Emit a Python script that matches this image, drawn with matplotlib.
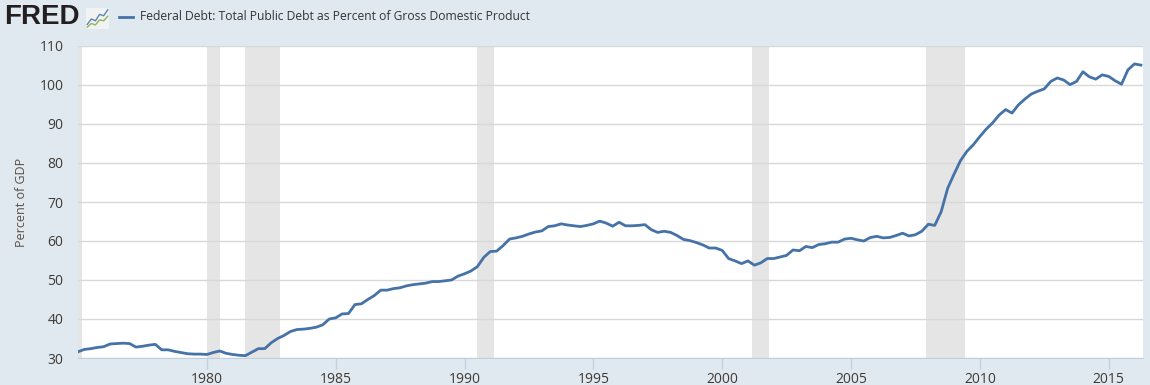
import pandas as pd
import matplotlib
matplotlib.use('Agg')
import matplotlib.pyplot as plt
import matplotlib.dates as mdates
from matplotlib.lines import Line2D

plt.rcParams['font.family'] = ['Open Sans', 'DejaVu Sans']

# quarterly values, 1975 Q1 .. 2016 Q2 (percent of GDP)
debt_pct = [
    31.6, 32.2, 32.4, 32.7,   # 1975
    32.9, 33.6, 33.7, 33.8,   # 1976
    33.7, 32.8, 33.0, 33.3,   # 1977
    33.5, 32.1, 32.1, 31.7,   # 1978
    31.4, 31.1, 31.0, 31.0,   # 1979
    30.9, 31.4, 31.8, 31.2,   # 1980
    30.9, 30.7, 30.6, 31.5,   # 1981
    32.4, 32.4, 33.9, 35.0,   # 1982
    35.8, 36.8, 37.3, 37.4,   # 1983
    37.6, 37.9, 38.5, 40.0,   # 1984
    40.3, 41.3, 41.4, 43.7,   # 1985
    43.9, 45.0, 46.0, 47.4,   # 1986
    47.4, 47.8, 48.0, 48.5,   # 1987
    48.8, 49.0, 49.2, 49.6,   # 1988
    49.6, 49.8, 50.0, 51.0,   # 1989
    51.6, 52.3, 53.4, 55.8,   # 1990
    57.3, 57.4, 58.8, 60.5,   # 1991
    60.8, 61.2, 61.8, 62.3,   # 1992
    62.6, 63.7, 63.9, 64.4,   # 1993
    64.1, 63.9, 63.7, 64.0,   # 1994
    64.4, 65.1, 64.6, 63.8,   # 1995
    64.8, 63.9, 63.9, 64.0,   # 1996
    64.2, 62.9, 62.2, 62.5,   # 1997
    62.2, 61.4, 60.4, 60.1,   # 1998
    59.6, 59.0, 58.2, 58.2,   # 1999
    57.6, 55.5, 54.9, 54.2,   # 2000
    54.9, 53.8, 54.4, 55.5,   # 2001
    55.5, 55.9, 56.3, 57.7,   # 2002
    57.5, 58.6, 58.3, 59.1,   # 2003
    59.3, 59.7, 59.7, 60.5,   # 2004
    60.7, 60.3, 60.0, 60.9,   # 2005
    61.2, 60.8, 60.9, 61.4,   # 2006
    62.0, 61.3, 61.6, 62.5,   # 2007
    64.3, 64.0, 67.5, 73.5,   # 2008
    77.2, 80.6, 83.0, 84.7,   # 2009
    86.8, 88.7, 90.3, 92.3,   # 2010
    93.7, 92.8, 94.9, 96.4,   # 2011
    97.7, 98.4, 99.0, 100.9,  # 2012
    101.8, 101.3, 100.1, 100.9,  # 2013
    103.4, 102.1, 101.5, 102.6,  # 2014
    102.2, 101.1, 100.2, 103.9,  # 2015
    105.4, 105.1,             # 2016
]
dates = pd.date_range('1975-01-01', periods=len(debt_pct), freq='QS')

rec_start = ['1973-11-01', '1980-01-01', '1981-07-01', '1990-07-01', '2001-03-01', '2007-12-01']
rec_end = ['1975-03-01', '1980-07-01', '1982-11-01', '1991-03-01', '2001-11-01', '2009-06-01']

title = 'Federal Debt: Total Public Debt as Percent of Gross Domestic Product'
ylabel = 'Percent of GDP'
yticks = [30, 40, 50, 60, 70, 80, 90, 100, 110]
xtick_years = [1980, 1985, 1990, 1995, 2000, 2005, 2010, 2015]

bg = '#e1e9f0'
line_c = '#4572a7'
txt_c = '#3f3a35'

fig = plt.figure(figsize=(11.5, 3.85), dpi=100, facecolor=bg)
ax = fig.add_axes([78 / 1150, 1 - 358 / 385, (1143 - 78) / 1150, (358 - 46) / 385])
ax.set_facecolor('white')

for s, e in zip(rec_start, rec_end):
    ax.axvspan(pd.Timestamp(s), pd.Timestamp(e), color='#e5e5e5', lw=0, zorder=1)

ax.plot(dates, debt_pct, color=line_c, lw=2, zorder=3, solid_joinstyle='round')

ax.set_xlim(pd.Timestamp('1975-01-01'), pd.Timestamp('2016-05-01'))
ax.set_ylim(30, 110)
ax.set_yticks(yticks)
ax.yaxis.grid(True, color='#d8d8d8', lw=1)
for gl in ax.get_ygridlines():
    gl.set_zorder(2)
ax.set_xticks([pd.Timestamp(f'{y}-01-01') for y in xtick_years])
ax.xaxis.set_major_formatter(mdates.DateFormatter('%Y'))

for side in ['top', 'left', 'right']:
    ax.spines[side].set_visible(False)
ax.spines['bottom'].set_color('#c0d0e0')
ax.spines['bottom'].set_zorder(4)
ax.tick_params(axis='x', colors='#c0d0e0', length=8, width=1, labelcolor=txt_c, labelsize=10, pad=2)
ax.tick_params(axis='y', length=0, labelcolor=txt_c, labelsize=10, pad=10.5)
ax.set_ylabel(ylabel, color='#5a4d42', fontsize=9, labelpad=8.5)

# header: logo and legend
fig.text(4 / 1150, 1 - 17 / 385, 'FRED', fontsize=20, fontweight='heavy', color='#231f20',
         family=['Liberation Sans', 'DejaVu Sans'], va='center', ha='left')
icon = fig.add_axes([86 / 1150, 1 - 29 / 385, 23 / 1150, 21 / 385])
icon.set_facecolor('#f2f2f2')
icon.plot([0, 1, 2, 3, 4, 5], [1, 2.2, 1.8, 3.2, 2.9, 4.2], color='#5b86b8', lw=1)
icon.plot([0, 1, 2, 3, 4, 5], [0.4, 1.2, 0.9, 2.0, 1.8, 2.8], color='#8bb55a', lw=1)
icon.set_xlim(-0.3, 5.3)
icon.set_ylim(0, 4.6)
icon.set_xticks([])
icon.set_yticks([])
for sp in icon.spines.values():
    sp.set_visible(False)

fig.add_artist(Line2D([119 / 1150, 133 / 1150], [1 - 17 / 385, 1 - 17 / 385], color=line_c, lw=2))
fig.text(140 / 1150, 1 - 17 / 385, title, fontsize=8.7, color='#333333', va='center', ha='left')

fig.savefig('out.png', dpi=100, facecolor=bg)
